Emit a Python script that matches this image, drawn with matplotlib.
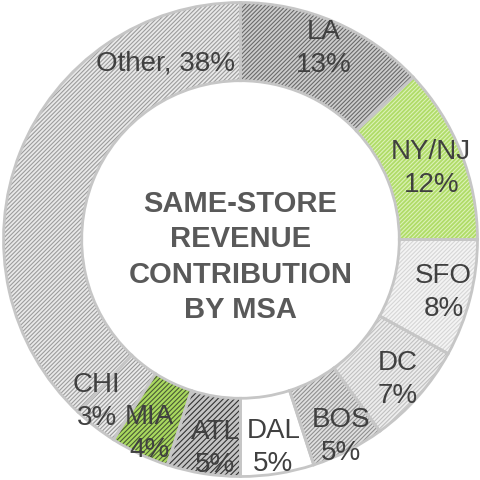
import matplotlib
matplotlib.use("Agg")
import matplotlib.pyplot as plt
import numpy as np

# ---- data ----
categories = ["LA", "NY/NJ", "SFO", "DC", "BOS", "DAL", "ATL", "MIA", "CHI", "Other"]
shares = [13, 12, 8, 7, 5, 5, 5, 4, 3, 38]
center_title = "SAME-STORE\nREVENUE\nCONTRIBUTION\nBY MSA"

# ---- style ----
face_colors = ["#cdcdcd", "#b0dc68", "#f4f4f4", "#ededed", "#e0e0e0",
               "#ffffff", "#c4c4c4", "#a9d95e", "#ebebeb", "#e9e9e9"]
hatch_colors = ["#6a6a6a", "#dcf2b8", "#d6d6d6", "#c0c0c0", "#909090",
                "#ffffff", "#333333", "#4a5a36", "#979797", "#9c9c9c"]
hatches = ["////////", "////////", "////////", "////////", "////////",
           "", "//////", "///////", "////////", "////////"]
label_angle_shift = {"NY/NJ": -1, "ATL": 2, "CHI": -4}
label_radius = {"NY/NJ": 0.86, "BOS": 0.93, "CHI": 0.91, "MIA": 0.9}

plt.rcParams["hatch.linewidth"] = 0.8
plt.rcParams["font.family"] = ["Liberation Sans", "DejaVu Sans"]

fig = plt.figure(figsize=(4.81, 4.81), dpi=100)
ax = fig.add_axes([0, 0, 1, 1])
lim = 240.5 / 237.0

ring_width = 0.33

# fill + hatch layer
wedges, _ = ax.pie(shares, startangle=90, counterclock=False, radius=1,
                   wedgeprops=dict(width=ring_width, linewidth=0))
for w, fc, hc, h in zip(wedges, face_colors, hatch_colors, hatches):
    w.set_facecolor(fc)
    w.set_edgecolor(hc)
    w.set_hatch(h)
    w.set_linewidth(0)

# border layer
borders, _ = ax.pie(shares, startangle=90, counterclock=False, radius=1,
                    wedgeprops=dict(width=ring_width, facecolor="none",
                                    edgecolor="#c6c6c6", linewidth=2.0))
ax.set_xlim(-lim, lim)
ax.set_ylim(-lim, lim)
ax.set_aspect("equal")
ax.axis("off")

# labels
total = sum(shares)
cum = 0
for name, v in zip(categories, shares):
    mid = 90 - (cum + v / 2) / total * 360
    cum += v
    if name == "Other":
        ang = np.deg2rad(113)
        r = 0.81
        txt = f"{name}, {v}%"
    else:
        ang = np.deg2rad(mid + label_angle_shift.get(name, 0))
        r = label_radius.get(name, 0.885)
        txt = f"{name}\n{v}%"
    ax.text(r * np.cos(ang), r * np.sin(ang), txt, ha="center", va="center",
            fontsize=20, color="#404040", linespacing=1.35)

ax.text(0, -0.07, center_title, ha="center", va="center", fontsize=21,
        fontweight="bold", color="#595959", linespacing=1.33)

fig.savefig("out.png", dpi=100)
